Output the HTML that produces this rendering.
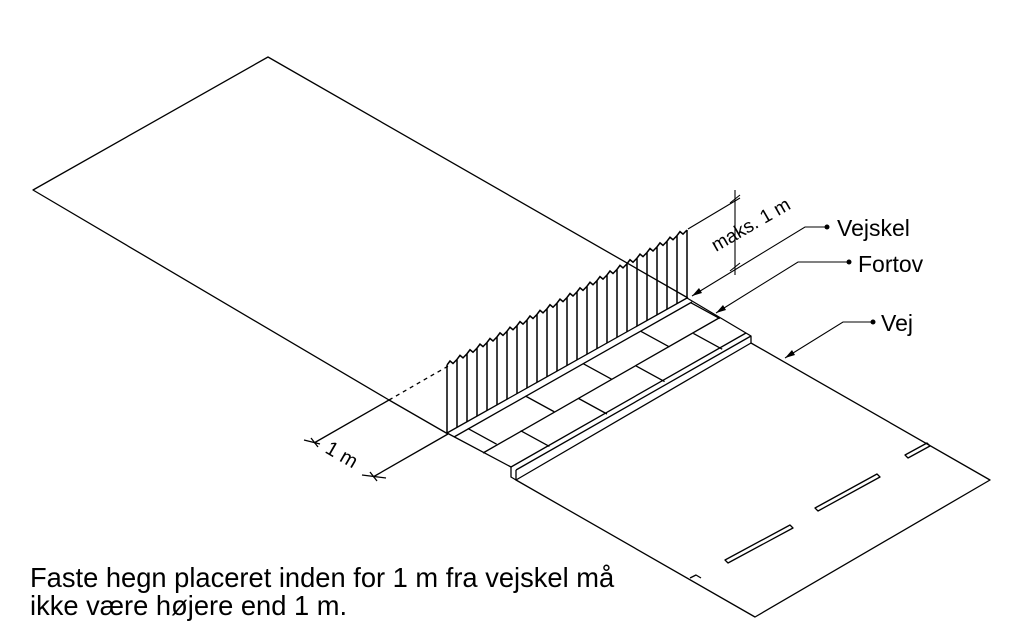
<!DOCTYPE html>
<html><head><meta charset="utf-8"><style>
html,body{margin:0;padding:0;background:#fff;}
svg{display:block;font-family:"Liberation Sans",Arial,sans-serif;}
</style></head><body>
<svg id="s" width="1023" height="635" viewBox="0 0 1023 635" xmlns="http://www.w3.org/2000/svg">
<g fill="none" stroke="#000" stroke-width="1.3" stroke-linejoin="round">
<polyline points="389,400 33,190 268,57 688,298"/>
<line x1="389" y1="400" x2="448" y2="434"/>
<line x1="389" y1="400" x2="450" y2="365" stroke-dasharray="4,4"/>
<line x1="389" y1="400" x2="314" y2="443"/>
<line x1="448" y1="434" x2="373" y2="477"/>
<line x1="304" y1="440" x2="320" y2="444"/>
<line x1="362" y1="475" x2="386" y2="478"/>
<path d="M311,438 L318,447 M370,472 L377,481"/>
<line x1="447" y1="433" x2="687" y2="298"/>
<line x1="454" y1="437" x2="692" y2="302"/>
<line x1="483" y1="453" x2="719" y2="318"/>
<line x1="511" y1="467" x2="746" y2="333"/>
<line x1="516" y1="470" x2="751" y2="336"/>
<polyline points="687,298 751,336 751,343"/>
<polyline points="447,433 511,467 511,477 516,480 516,470"/>
<path id="joints" d=""/>
<polygon points="516,480 751,343 990,480 755,617"/>
<polygon points="725,560 790,525 793,528 728,563"/>
<polygon points="815,508 877,474 880,477 818,511"/>
<polygon points="905,455 927,443 930,446 908,458"/>
<path d="M690,578 L696,575 L701,578"/>
</g>
<g fill="none" stroke="#000" stroke-width="1.5" id="fence"></g>
<g fill="none" stroke="#000" stroke-width="1.1">
<line x1="688" y1="229" x2="740" y2="198"/>
<line x1="735" y1="190" x2="735" y2="275"/>
<line x1="730" y1="203" x2="740" y2="195"/>
<line x1="730" y1="271" x2="740" y2="263"/>
<polyline points="827,227 805,227 692,296"/>
<polyline points="849,262 798,262 716,313"/>
<polyline points="873,322 843,322 785,358"/>
</g>
<g fill="#000">
<circle cx="827" cy="227" r="2.5"/><circle cx="849" cy="262" r="2.5"/><circle cx="873" cy="322" r="2.5"/>
<polygon points="692,296 699,288 702,293"/>
<polygon points="716,313 723,305 726,310"/>
<polygon points="785,358 792,350 795,355"/>
</g>
<g fill="#000">
<text x="837" y="236" font-size="23">Vejskel</text>
<text x="858" y="272" font-size="23">Fortov</text>
<text x="881" y="331" font-size="23">Vej</text>
<text x="0" y="0" font-size="19" transform="translate(716,252) rotate(-30)">maks. 1 m</text>
<text x="0" y="0" font-size="20" transform="translate(324,452) rotate(30)">1 m</text>
<text x="30" y="587" font-size="27.3">Faste hegn placeret inden for 1 m fra vejskel må</text>
<text x="30" y="615" font-size="27.3">ikke være højere end 1 m.</text>
</g>
<script>
(function(){
var ns="http://www.w3.org/2000/svg",g=document.getElementById("fence");
function base(x){return 433-(x-447)*0.5625;}
var d="",top="M447,"+(base(447)-68);
for(var x=447;x<=687;x+=10){
 d+="M"+x+","+base(x)+"L"+x+","+(base(x)-68);
 if(x<687){var t=base(x)-68;top+=" L"+(x+3)+","+(t-4)+" L"+(x+6)+","+(t-1.5)+" L"+(x+10)+","+(base(x+10)-68);}
}
var p=document.createElementNS(ns,"path");p.setAttribute("d",d+top);g.appendChild(p);
function pt(t,o){return [447+240*t+o*64, 433-135*t+o*35];}
var j="";
var r1=[0.06,0.3,0.54,0.78,0.99],r2=[0.16,0.4,0.64,0.88];
r1.forEach(function(t){var a=pt(t,0.1),b=pt(t,0.55);j+="M"+a+"L"+b;});
r2.forEach(function(t){var a=pt(t,0.55),b=pt(t,1.0);j+="M"+a+"L"+b;});
document.getElementById("joints").setAttribute("d",j);
})();
</script>
</svg>
</body></html>
